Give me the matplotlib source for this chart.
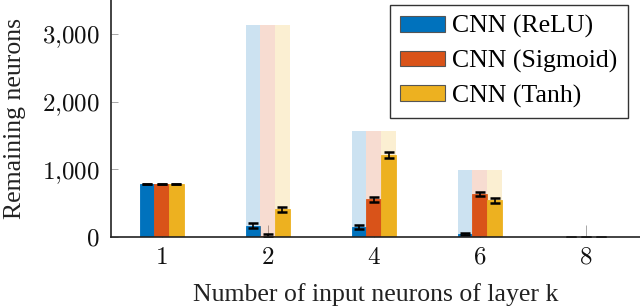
import numpy as np
from matplotlib import pyplot as plt
from matplotlib.ticker import FuncFormatter

plt.rcParams['font.family'] = 'Liberation Serif'
plt.rcParams['mathtext.fontset'] = 'cm'

# number of input neurons of layer k
categories = ['1', '2', '4', '6', '8']
labels = ['CNN (ReLU)', 'CNN (Sigmoid)', 'CNN (Tanh)']
colors = ['#0072BD', '#D95319', '#EDB120']

# neurons before pruning (light bars)
initial = [784, 3136, 1568, 990, 0]

# remaining neurons after pruning, with spread
relu = [784, 165, 150, 45, 4]
relu_err = [3, 35, 30, 12, 3]
sigmoid = [784, 20, 555, 630, 3]
sigmoid_err = [3, 20, 40, 30, 3]
tanh = [784, 410, 1210, 540, 4]
tanh_err = [3, 38, 50, 33, 3]

series = [(relu, relu_err), (sigmoid, sigmoid_err), (tanh, tanh_err)]


def plot():
    fig = plt.figure(figsize=(6.4, 3.07), dpi=100)
    ax = fig.add_axes([0.173, 0.228, 0.827, 0.772])
    x = np.arange(len(categories))
    w = 0.139

    for i, ((vals, errs), c, lab) in enumerate(zip(series, colors, labels)):
        pos = x + (i - 1) * w
        ax.bar(pos, initial, w, color=c, alpha=0.2, linewidth=0)
        ax.bar(pos, vals, w, color=c, edgecolor=c, linewidth=0.6, label=lab)
        ax.errorbar(pos, vals, yerr=errs, fmt='none', ecolor='black',
                    elinewidth=1.2, capsize=3.5, capthick=1.8)

    ax.set_xlim(-0.48, 4.51)
    ax.set_ylim(0, 3500)
    ax.set_xticks(x)
    ax.set_xticklabels(['$%s$' % c for c in categories])
    ax.set_yticks([0, 1000, 2000, 3000])
    ax.yaxis.set_major_formatter(FuncFormatter(
        lambda v, p: '$%s$' % format(int(v), ',').replace(',', '{,}')))
    ax.tick_params(axis='both', direction='in', colors='#999999',
                   labelcolor='#111111', labelsize=18)
    ax.tick_params(axis='x', length=8.5, width=0.6, pad=7)
    ax.tick_params(axis='y', length=5, width=0.6, pad=8)
    ax.set_axisbelow(True)

    for s in ['top', 'right']:
        ax.spines[s].set_visible(False)
    for s in ['left', 'bottom']:
        ax.spines[s].set_color('#222222')
        ax.spines[s].set_linewidth(1.2)

    ax.set_xlabel('Number of input neurons of layer k', fontsize=18.5,
                  color='#222222', labelpad=10)
    ax.set_ylabel('Remaining neurons', fontsize=18.5, color='#222222',
                  labelpad=11)

    leg = ax.legend(loc='upper right', fontsize=18.5, frameon=True,
                    fancybox=False, edgecolor='#333333', framealpha=1,
                    handlelength=1.75, handleheight=0.55, handletextpad=0.3,
                    borderpad=0.4, labelspacing=0.45, borderaxespad=0,
                    bbox_to_anchor=(628 / 640, 1 - 5 / 307),
                    bbox_transform=fig.transFigure)
    leg.get_frame().set_linewidth(1.0)
    for h in leg.legend_handles:
        h.set_edgecolor('#555555')
        h.set_linewidth(0.8)

    fig.savefig('out.png', dpi=100)


if __name__ == '__main__':
    plot()
